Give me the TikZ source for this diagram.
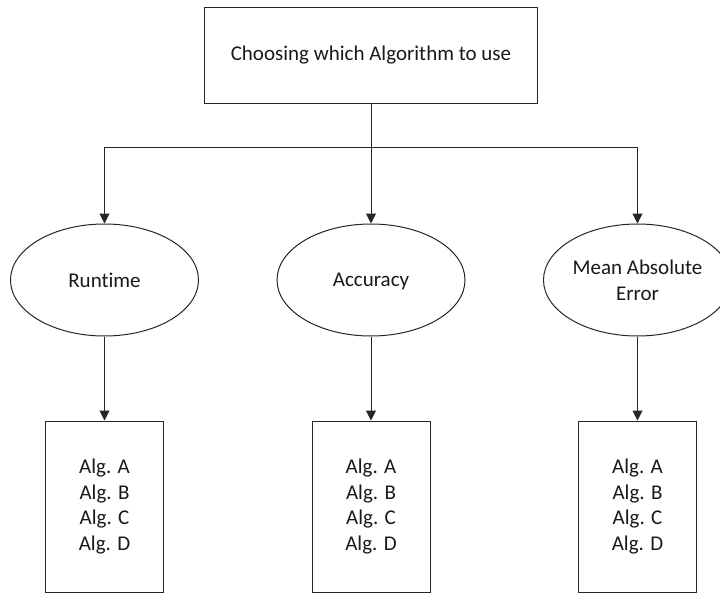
\documentclass[tikz,border=0pt]{standalone}
\usepackage{fontspec}
\setmainfont[Ligatures=NoCommon]{Carlito}
\usetikzlibrary{arrows.meta,shapes.geometric}

\tikzset{
  base/.style={draw=black!85, line width=1pt, font=\fontsize{21}{25.7}\selectfont, text=black!90, align=center},
  titlebox/.style={base, rectangle, minimum width=333pt, minimum height=95pt, inner sep=0pt},
  critbox/.style={base, ellipse, minimum width=188pt, minimum height=112pt, inner sep=0pt},
  algbox/.style={base, rectangle, minimum width=118pt, minimum height=171pt, inner sep=0pt},
  link/.style={draw=black!85, line width=1pt},
  flow/.style={link, -{Triangle[width=10pt,length=10pt]}}
}

\begin{document}
\begin{tikzpicture}[x=1pt, y=-1pt]
  \useasboundingbox (0,0) rectangle (720,594);

  % root question
  \node[titlebox] (root) at (371,55.5) {Choosing which Algorithm to use};

  % criteria
  \node[critbox] (run) at (104.5,280) {Runtime};
  \node[critbox, text depth=0pt] (acc) at (371,280) {Accuracy};
  \node[critbox] (mae) at (637.5,280) {Mean Absolute\\Error};

  % candidate lists
  \node[algbox] (lrun) at (104.5,506.5) {Alg. A\\Alg. B\\Alg. C\\Alg. D};
  \node[algbox] (lacc) at (371,506.5) {Alg. A\\Alg. B\\Alg. C\\Alg. D};
  \node[algbox] (lmae) at (637.5,506.5) {Alg. A\\Alg. B\\Alg. C\\Alg. D};

  % branching connectors
  \coordinate (split) at (371,147);
  \draw[link] (root.south) -- (split);
  \draw[flow] (split) -| (run.north);
  \draw[flow] (split) -- (acc.north);
  \draw[flow] (split) -| (mae.north);

  \draw[flow] (run.south) -- (lrun.north);
  \draw[flow] (acc.south) -- (lacc.north);
  \draw[flow] (mae.south) -- (lmae.north);
\end{tikzpicture}
\end{document}
